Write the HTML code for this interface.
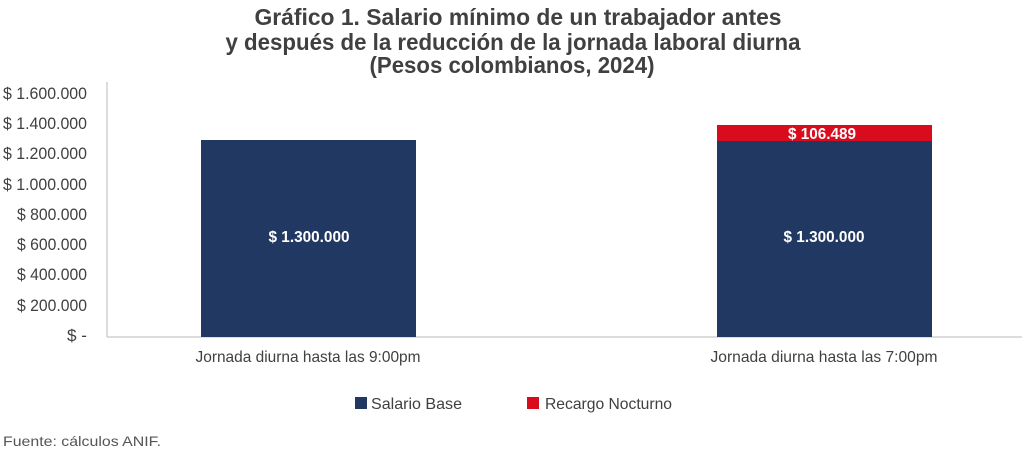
<!DOCTYPE html>
<html><head><meta charset="utf-8"><style>
html,body{margin:0;padding:0;background:#fff;}
svg{display:block;font-family:"Liberation Sans",Arial,sans-serif;}
</style></head><body>
<svg width="1024" height="451" viewBox="0 0 1024 451" xmlns="http://www.w3.org/2000/svg">
<g fill="#404040" font-weight="bold" font-size="23" text-anchor="middle">
<text x="518" y="25" textLength="527" lengthAdjust="spacingAndGlyphs">Gráfico 1. Salario mínimo de un trabajador antes</text>
<text x="513" y="50" textLength="575" lengthAdjust="spacingAndGlyphs">y después de la reducción de la jornada laboral diurna</text>
<text x="512" y="73" textLength="285" lengthAdjust="spacingAndGlyphs">(Pesos colombianos, 2024)</text>
</g>
<line x1="107" y1="82" x2="107" y2="337" stroke="#d0d0d0" stroke-width="1.5"/>
<line x1="107" y1="337" x2="1022" y2="337" stroke="#d0d0d0" stroke-width="1.5"/>
<g fill="#404040" font-size="16.5" text-anchor="end">
<text x="87" y="99" textLength="84" lengthAdjust="spacingAndGlyphs">$ 1.600.000</text>
<text x="87" y="129" textLength="84" lengthAdjust="spacingAndGlyphs">$ 1.400.000</text>
<text x="87" y="159" textLength="84" lengthAdjust="spacingAndGlyphs">$ 1.200.000</text>
<text x="87" y="190" textLength="84" lengthAdjust="spacingAndGlyphs">$ 1.000.000</text>
<text x="87" y="220" textLength="70" lengthAdjust="spacingAndGlyphs">$ 800.000</text>
<text x="87" y="250" textLength="70" lengthAdjust="spacingAndGlyphs">$ 600.000</text>
<text x="87" y="280" textLength="70" lengthAdjust="spacingAndGlyphs">$ 400.000</text>
<text x="87" y="311" textLength="70" lengthAdjust="spacingAndGlyphs">$ 200.000</text>
<text x="87" y="341" textLength="20" lengthAdjust="spacingAndGlyphs">$ -</text>
</g>
<rect x="201" y="140" width="215" height="197" fill="#213862"/>
<rect x="717" y="141" width="215" height="196" fill="#213862"/>
<rect x="717" y="125" width="215" height="16" fill="#d90c1e"/>
<g fill="#fff" font-weight="bold" font-size="15.5" text-anchor="middle">
<text x="309" y="242" textLength="81" lengthAdjust="spacingAndGlyphs">$ 1.300.000</text>
<text x="824" y="242" textLength="81" lengthAdjust="spacingAndGlyphs">$ 1.300.000</text>
<text x="822" y="139" textLength="68" lengthAdjust="spacingAndGlyphs">$ 106.489</text>
</g>
<g fill="#404040" font-size="16" text-anchor="middle">
<text x="308" y="362" textLength="225" lengthAdjust="spacingAndGlyphs">Jornada diurna hasta las 9:00pm</text>
<text x="824" y="362" textLength="227" lengthAdjust="spacingAndGlyphs">Jornada diurna hasta las 7:00pm</text>
</g>
<rect x="355" y="397" width="12" height="12" fill="#213862"/>
<text x="371" y="409" fill="#404040" font-size="16" textLength="91" lengthAdjust="spacingAndGlyphs">Salario Base</text>
<rect x="527" y="397" width="12" height="12" fill="#d90c1e"/>
<text x="545" y="409" fill="#404040" font-size="16" textLength="127" lengthAdjust="spacingAndGlyphs">Recargo Nocturno</text>
<text x="3" y="446" fill="#555" font-size="14" textLength="158" lengthAdjust="spacingAndGlyphs">Fuente: cálculos ANIF.</text>
</svg>
</body></html>
